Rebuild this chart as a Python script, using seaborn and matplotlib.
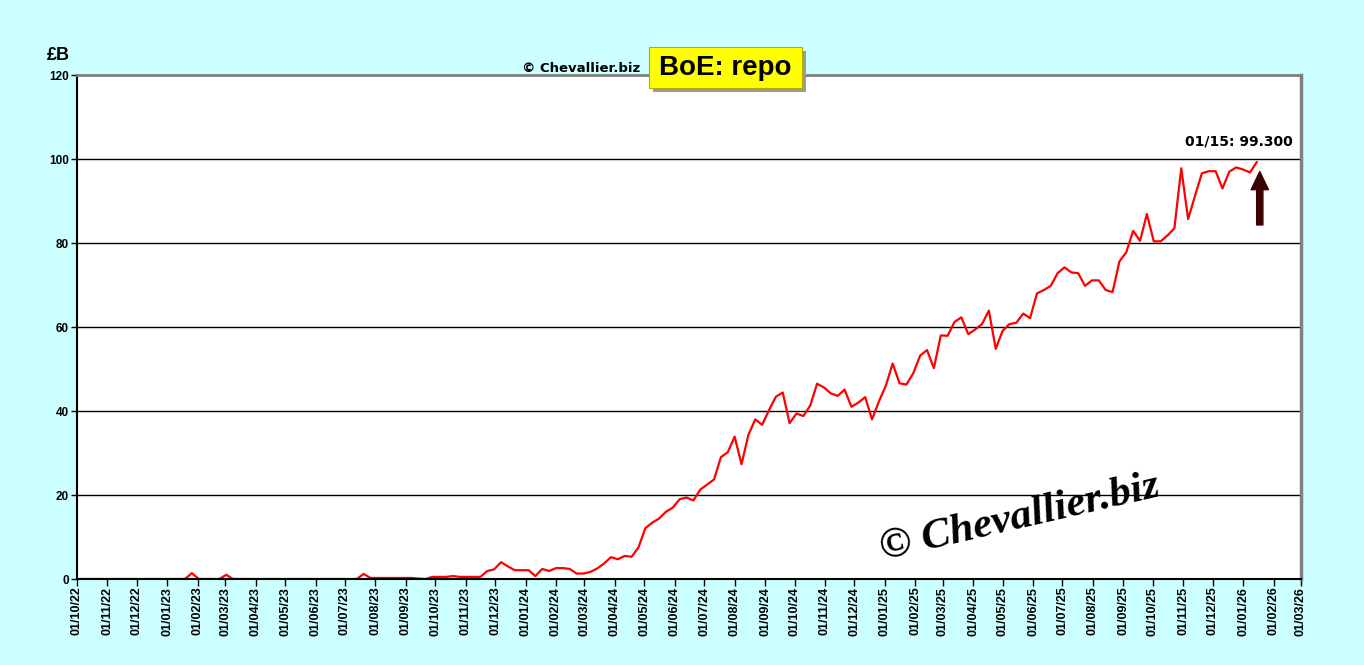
import pandas as pd
import matplotlib
matplotlib.use('Agg')
import matplotlib.pyplot as plt
from matplotlib.patches import Rectangle
import seaborn as sns

# weekly BoE repo usage, £bn, one value per Thursday starting 29/09/22
first_week = '2022-09-29'
repo_bn = [
    0, 0, 0, 0, 0, 0, 0, 0, 0, 0, 0, 0, 0, 0, 0, 0, 0,           # to 19/01/23
    1.4, 0, 0, 0, 0, 1.0,                                        # Jan-Mar 23
    0, 0, 0, 0, 0, 0, 0, 0, 0, 0, 0, 0, 0, 0, 0, 0, 0, 0, 0,     # Mar-Jul 23
    1.2, 0.25, 0.25, 0.25, 0.25, 0.25, 0.25, 0.25, 0.1, 0.0,
    0.5, 0.5, 0.5, 0.7, 0.5, 0.5, 0.5, 0.5,
    1.9, 2.3, 4.0, 3.0, 2.1, 2.1,                                # Nov-Dec 23
    2.1, 0.7, 2.4, 1.9, 2.6, 2.6, 2.4, 1.3, 1.3, 1.7, 2.5, 3.7,  # Jan-Mar 24
    5.2, 4.7, 5.5, 5.3, 7.5, 12.1, 13.4, 14.4, 16.0, 17.0,
    19.0, 19.4, 18.7, 21.3, 22.5, 23.7, 29.0, 30.2, 33.9, 27.3,
    34.3, 38.0, 36.7, 40.2, 43.4, 44.4, 37.1, 39.4, 38.8, 41.3,
    46.5, 45.6, 44.2, 43.6, 45.1, 41.0, 42.0, 43.3, 38.0, 42.3,
    46.0, 51.3, 46.6, 46.3, 49.0, 53.2, 54.5, 50.2, 58.0, 57.9,  # 2025
    61.2, 62.3, 58.3, 59.4, 60.7, 63.9, 54.8, 59.1, 60.7, 61.0,
    63.2, 62.1, 68.0, 68.8, 69.8, 72.8, 74.2, 73.0, 72.8, 69.8,
    71.1, 71.1, 68.8, 68.3, 75.6, 77.8, 82.9, 80.5, 86.9, 80.4,
    80.4, 81.8, 83.5, 97.8, 85.7, 91.2, 96.6, 97.1, 97.1, 93.0,
    97.0, 98.0, 97.5, 96.8, 99.3,
]
weeks = pd.date_range(first_week, periods=len(repo_bn), freq='7D')
df = pd.DataFrame({'week': weeks, 'repo': repo_bn})

y_ticks = [0, 20, 40, 60, 80, 100, 120]
month_ticks = pd.date_range('2022-10-01', '2026-03-01', freq='MS')
last_label = '01/15: 99.300'

sns.set_style('white')
plt.rcParams['font.family'] = ['Liberation Sans', 'DejaVu Sans']
plt.rcParams['text.color'] = 'black'
plt.rcParams['xtick.color'] = 'black'
plt.rcParams['ytick.color'] = 'black'

fig = plt.figure(figsize=(13.64, 6.65), dpi=100, facecolor='#CCFFFF')
ax = fig.add_axes([77 / 1364, 86 / 665, 1224 / 1364, 504 / 665])
ax.set_facecolor('white')

sns.lineplot(data=df, x='week', y='repo', color='red', lw=1.6, ax=ax)

ax.set_xlim(month_ticks[0], month_ticks[-1])
ax.set_ylim(0, 120)
ax.set_xticks(month_ticks)
ax.set_xticklabels([d.strftime('%d/%m/%y') for d in month_ticks],
                   rotation=90, fontsize=9, fontweight='bold', color='black')
ax.set_yticks(y_ticks)
ax.set_yticklabels([str(v) for v in y_ticks], fontsize=8.5, fontweight='bold',
                   color='black')
ax.set_xlabel('')
ax.set_ylabel('')
ax.tick_params(axis='x', bottom=True, length=5, width=1, color='black', pad=0.5)
ax.tick_params(axis='y', left=True, length=4, width=1, color='black', pad=2)
ax.grid(axis='y', color='black', lw=1)
ax.grid(axis='x', visible=False)

for s in ['left', 'bottom']:
    ax.spines[s].set_color('black')
    ax.spines[s].set_linewidth(1.5)
ax.spines['top'].set_color('#808080')
ax.spines['top'].set_linewidth(2)
ax.spines['right'].set_color('#808080')
ax.spines['right'].set_linewidth(2.5)

# last value label and arrow
ax.annotate(last_label, xy=(weeks[-1], repo_bn[-1]), xytext=(-12.6, 15),
            textcoords='offset points', ha='center', va='center',
            fontsize=10, fontweight='bold', family='DejaVu Sans', color='black')
ax.annotate('', xy=(weeks[-1] + pd.Timedelta(days=3), 97.0),
            xytext=(weeks[-1] + pd.Timedelta(days=3), 84.3),
            arrowprops=dict(arrowstyle='simple,head_length=1.3,head_width=1.25,tail_width=0.45',
                            mutation_scale=10, color='#3d0000', shrinkA=0, shrinkB=0))

# watermark
ax.text(0.77, 0.12, '© Chevallier.biz', transform=ax.transAxes, fontsize=31,
        fontstyle='italic', fontweight='bold', family='Liberation Serif',
        rotation=13, ha='center', va='center', color='black')

# header texts
fig.text(58 / 1364, 1 - 56 / 665, '£B', ha='center', va='center',
         fontsize=13, fontweight='bold', color='black')
fig.text(581 / 1364, 1 - 69 / 665, '© Chevallier.biz', ha='center', va='center',
         fontsize=9.5, fontweight='bold', family='DejaVu Sans', color='black')
fig.patches.append(Rectangle((653 / 1364, 1 - 92 / 665), 153 / 1364, 41 / 665,
                             transform=fig.transFigure, fc='#9a9a9a', ec='none'))
fig.patches.append(Rectangle((649 / 1364, 1 - 88 / 665), 153 / 1364, 41 / 665,
                             transform=fig.transFigure, fc='yellow', ec='#b0b000', lw=0.8))
fig.text(725.5 / 1364, 1 - 68 / 665, 'BoE: repo', ha='center', va='center',
         fontsize=20, fontweight='bold', color='black')

fig.savefig('out.png', dpi=100, facecolor=fig.get_facecolor())
